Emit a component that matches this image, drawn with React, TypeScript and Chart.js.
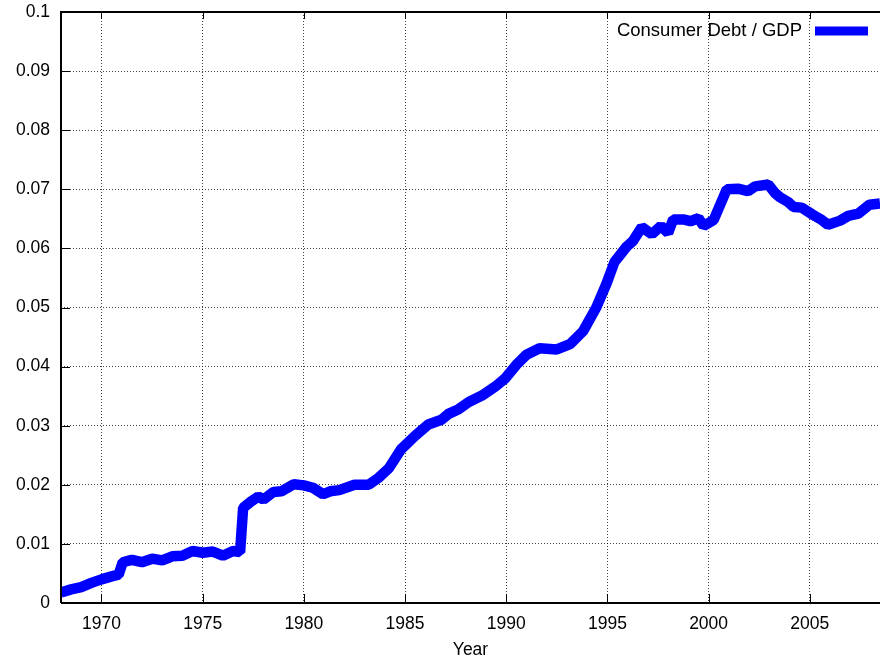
import React, { useEffect, useRef } from "react";
import { Chart, registerables } from "chart.js";

Chart.register(...registerables);

const years: number[] = [
  1968.0, 1968.5, 1969.0, 1969.5, 1970.0, 1970.5, 1970.85, 1971.05, 1971.5, 1972.0,
  1972.5, 1973.0, 1973.5, 1974.0, 1974.5, 1975.0, 1975.5, 1976.0, 1976.5, 1976.85,
  1977.0, 1977.4, 1977.75, 1978.0, 1978.5, 1978.9, 1979.5, 1980.0, 1980.45, 1980.95,
  1981.3, 1981.75, 1982.5, 1983.2, 1983.7, 1984.2, 1984.8, 1985.5, 1986.15, 1986.8,
  1987.15, 1987.65, 1988.15, 1988.8, 1989.45, 1989.95, 1990.5, 1991.0, 1991.65, 1992.5,
  1993.15, 1993.8, 1994.45, 1994.95, 1995.35, 1995.95, 1996.25, 1996.7, 1997.2, 1997.65,
  1998.0, 1998.25, 1998.75, 1999.1, 1999.5, 1999.75, 2000.25, 2000.9, 2001.45, 2001.95,
  2002.3, 2002.95, 2003.3, 2003.55, 2003.95, 2004.2, 2004.6, 2005.15, 2005.6, 2005.9,
  2006.5, 2006.9, 2007.4, 2007.95, 2008.47,
];

const debtToGdp: number[] = [
  0.0018, 0.0023, 0.0027, 0.0034, 0.0040, 0.0045, 0.0048, 0.0069, 0.0073, 0.0069,
  0.0075, 0.0072, 0.0079, 0.0080, 0.0088, 0.0085, 0.0087, 0.0080, 0.0088, 0.0086,
  0.0161, 0.0172, 0.0180, 0.0175, 0.0188, 0.0189, 0.0201, 0.0199, 0.0195, 0.0184,
  0.0189, 0.0191, 0.0200, 0.0200, 0.0212, 0.0228, 0.0260, 0.0283, 0.0302, 0.0310,
  0.0320, 0.0328, 0.0340, 0.0351, 0.0366, 0.0380, 0.0403, 0.0420, 0.0431, 0.0429,
  0.0438, 0.0460, 0.0500, 0.0540, 0.0577, 0.0603, 0.0612, 0.0636, 0.0624, 0.0638,
  0.0626, 0.0649, 0.0649, 0.0646, 0.0651, 0.0638, 0.0648, 0.0700, 0.0701, 0.0697,
  0.0705, 0.0708, 0.0693, 0.0686, 0.0678, 0.0670, 0.0669, 0.0657, 0.0648, 0.0640,
  0.0647, 0.0655, 0.0659, 0.0674, 0.0676,
];

const xTickValues: number[] = [1970, 1975, 1980, 1985, 1990, 1995, 2000, 2005];
const yTickValues: number[] = [0, 0.01, 0.02, 0.03, 0.04, 0.05, 0.06, 0.07, 0.08, 0.09, 0.1];
const yTickLabels: string[] = ["0", "0.01", "0.02", "0.03", "0.04", "0.05", "0.06", "0.07", "0.08", "0.09", "0.1"];

const seriesLabel = "Consumer Debt / GDP";
const xTitle = "Year";

const FONT = "'Liberation Sans', Arial, Helvetica, sans-serif";

export default function App() {
  const ref = useRef<HTMLCanvasElement | null>(null);

  useEffect(() => {
    if (!ref.current) return;

    const gnuplotFrame = {
      id: "gnuplotFrame",
      afterDatasetsDraw(chart: any) {
        const { ctx, chartArea } = chart;
        const xs = chart.scales.x;
        const ys = chart.scales.y;
        ctx.save();
        ctx.strokeStyle = "#000";
        ctx.lineWidth = 2;
        ctx.beginPath();
        ctx.moveTo(chartArea.left, chartArea.bottom);
        ctx.lineTo(chartArea.left, chartArea.top);
        ctx.lineTo(chartArea.right + 2, chartArea.top);
        ctx.moveTo(chartArea.left, chartArea.bottom);
        ctx.lineTo(chartArea.right + 2, chartArea.bottom);
        ctx.stroke();
        ctx.lineWidth = 1;
        ctx.beginPath();
        for (const v of xTickValues) {
          const px = Math.round(xs.getPixelForValue(v)) + 0.5;
          ctx.moveTo(px, chartArea.bottom);
          ctx.lineTo(px, chartArea.bottom - 9);
          ctx.moveTo(px, chartArea.top);
          ctx.lineTo(px, chartArea.top + 7);
        }
        for (const v of yTickValues) {
          const py = Math.round(ys.getPixelForValue(v)) + 0.5;
          ctx.moveTo(chartArea.left, py);
          ctx.lineTo(chartArea.left + 9, py);
        }
        ctx.stroke();

        // gnuplot-style key
        const ky = chartArea.top + 19;
        ctx.font = "18.5px " + FONT;
        ctx.fillStyle = "#000";
        ctx.textAlign = "right";
        ctx.textBaseline = "middle";
        ctx.fillText(seriesLabel, chartArea.right - 78, ky);
        ctx.fillStyle = "#0000ff";
        ctx.fillRect(chartArea.right - 65, ky - 4.5, 53, 9);
        ctx.restore();
      },
    };

    const chart = new Chart(ref.current, {
      type: "line",
      data: {
        datasets: [
          {
            label: seriesLabel,
            data: years.map((y, i) => ({ x: y, y: debtToGdp[i] })),
            borderColor: "#0000ff",
            backgroundColor: "#0000ff",
            borderWidth: 10.5,
            borderJoinStyle: "bevel",
            pointRadius: 0,
            tension: 0,
            fill: false,
          },
        ],
      },
      options: {
        animation: false,
        responsive: false,
        layout: { padding: { top: 12, right: 0, left: 0, bottom: 0 } },
        plugins: { legend: { display: false }, tooltip: { enabled: false } },
        scales: {
          x: {
            type: "linear",
            min: 1968,
            max: 2008.47,
            afterBuildTicks: (s: any) => {
              s.ticks = xTickValues.map((v) => ({ value: v }));
            },
            afterFit: (s: any) => {
              s.height = 56;
              s.paddingLeft = 0;
              s.paddingRight = 0;
            },
            ticks: {
              color: "#000",
              font: { family: FONT, size: 17.5 },
              padding: 11,
              maxRotation: 0,
              autoSkip: false,
              callback: (v: any) => String(v),
            },
            grid: {
              color: "rgba(0,0,0,0.75)",
              lineWidth: 1,
              tickLength: 0,
              drawTicks: false,
            },
            border: { display: false, dash: [1, 2] },
            title: {
              display: true,
              text: xTitle,
              color: "#000",
              font: { family: FONT, size: 17.5 },
              padding: { top: 0, bottom: -2 },
            },
          },
          y: {
            type: "linear",
            min: 0,
            max: 0.1,
            afterBuildTicks: (s: any) => {
              s.ticks = yTickValues.map((v) => ({ value: v }));
            },
            afterFit: (s: any) => {
              s.width = 61;
              s.paddingTop = 0;
              s.paddingBottom = 0;
            },
            ticks: {
              color: "#000",
              font: { family: FONT, size: 17.5 },
              padding: 11,
              autoSkip: false,
              callback: (_v: any, i: number) => yTickLabels[i],
            },
            grid: {
              color: "rgba(0,0,0,0.75)",
              lineWidth: 1,
              tickLength: 0,
              drawTicks: false,
            },
            border: { display: false, dash: [1, 2] },
          },
        },
      },
      plugins: [gnuplotFrame],
    });

    return () => chart.destroy();
  }, []);

  return (
    <div style={{ position: "fixed", left: 0, top: 0, width: 880, height: 659, background: "#fff" }}>
      <canvas ref={ref} width={880} height={659} style={{ display: "block" }} />
    </div>
  );
}
